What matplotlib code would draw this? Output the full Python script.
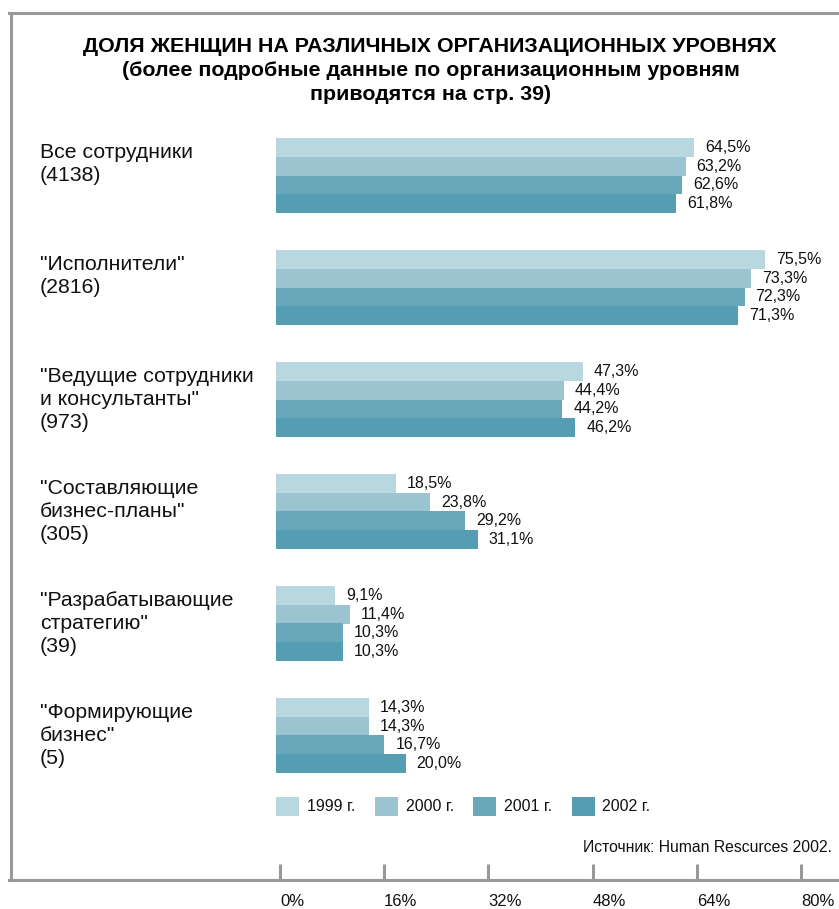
import matplotlib
matplotlib.use("Agg")
import matplotlib.pyplot as plt
from matplotlib.lines import Line2D
from matplotlib.patches import Rectangle
from matplotlib.transforms import blended_transform_factory

plt.rcParams['font.family'] = ['Liberation Sans', 'DejaVu Sans']

categories = [
    'Все сотрудники\n(4138)',
    '"Исполнители"\n(2816)',
    '"Ведущие сотрудники\nи консультанты"\n(973)',
    '"Составляющие\nбизнес-планы"\n(305)',
    '"Разрабатывающие\nстратегию"\n(39)',
    '"Формирующие\nбизнес"\n(5)',
]
years = ['1999 г.', '2000 г.', '2001 г.', '2002 г.']
values = {
    '1999 г.': [64.5, 75.5, 47.3, 18.5, 9.1, 14.3],
    '2000 г.': [63.2, 73.3, 44.4, 23.8, 11.4, 14.3],
    '2001 г.': [62.6, 72.3, 44.2, 29.2, 10.3, 16.7],
    '2002 г.': [61.8, 71.3, 46.2, 31.1, 10.3, 20.0],
}
tick_values = [0, 16, 32, 48, 64, 80]
colors = ['#b8d7de', '#9cc3d0', '#68a8ba', '#549db3']

W, H = 839, 909
fig = plt.figure(figsize=(W / 100, H / 100), dpi=100)


def fx(px):
    return px / W


def fy(py):
    return 1 - py / H


# bar area, 0% at x=276, about 6.48 px per percent
top_px, bot_px = 120, 790
ax = fig.add_axes([fx(276), fy(bot_px), fx(W - 276), (bot_px - top_px) / H])
ax.set_xlim(0, (W - 276) / 6.48)
ax.set_ylim((bot_px - 175.5) / 112, (top_px - 175.5) / 112)
ax.axis('off')

bh = 18.75 / 112
for j, yr in enumerate(years):
    ys = [i + (j - 1.5) * bh for i in range(len(categories))]
    ax.barh(ys, values[yr], height=bh, color=colors[j], linewidth=0)
    for y, v in zip(ys, values[yr]):
        ax.annotate(f'{v:.1f}%'.replace('.', ','), (v, y), xytext=(8, 0),
                    textcoords='offset points', va='center', ha='left',
                    fontsize=11.5, color='#111111')

trans = blended_transform_factory(fig.transFigure, ax.transData)
for i, cat in enumerate(categories):
    ax.text(fx(40), i - 2 * bh + 0.045, cat, transform=trans, ha='left', va='top',
            fontsize=15.3, linespacing=1.25, color='#111111')

# title
fig.text(fx(430), fy(46), 'ДОЛЯ ЖЕНЩИН НА РАЗЛИЧНЫХ ОРГАНИЗАЦИОННЫХ УРОВНЯХ',
         ha='center', va='center', fontsize=15.4, fontweight='bold')
fig.text(fx(431), fy(70), '(более подробные данные по организационным уровням',
         ha='center', va='center', fontsize=15.4, fontweight='bold')
fig.text(fx(431), fy(94), 'приводятся на стр. 39)',
         ha='center', va='center', fontsize=15.4, fontweight='bold')

# legend
for j, yr in enumerate(years):
    x0 = 276 + j * 98.5
    fig.patches.append(Rectangle((fx(x0), fy(816)), fx(23), 19 / H, color=colors[j],
                                 transform=fig.transFigure, linewidth=0))
    fig.text(fx(x0 + 31), fy(806.5), yr, ha='left', va='center', fontsize=11.5,
             color='#111111')

fig.text(fx(832), fy(847), 'Источник: Human Rescurces 2002.', ha='right', va='center',
         fontsize=11.3, color='#111111')

# frame
gray = '#999999'
fig.lines.append(Line2D([fx(9), fx(W)], [fy(12.5), fy(12.5)], color=gray, lw=2.2,
                        transform=fig.transFigure))
fig.lines.append(Line2D([fx(10.5), fx(10.5)], [fy(12.5), fy(880)], color=gray, lw=2.2,
                        transform=fig.transFigure))
fig.lines.append(Line2D([fx(9), fx(W)], [fy(880), fy(880)], color=gray, lw=2.2,
                        transform=fig.transFigure))

# scale ticks
tax = fig.add_axes([fx(280), fy(880), fx(801 - 280), 0.02])
tax.set_xlim(0, 80)
tax.patch.set_alpha(0)
for s in tax.spines.values():
    s.set_visible(False)
tax.set_yticks([])
tax.set_xticks(tick_values)
tax.set_xticklabels([f'{t}%' for t in tick_values], ha='left')
tax.tick_params(axis='x', direction='in', length=11.5, width=2.2, color=gray,
                pad=10, labelsize=12, labelcolor='#111111')

fig.savefig('out.png', dpi=100)
